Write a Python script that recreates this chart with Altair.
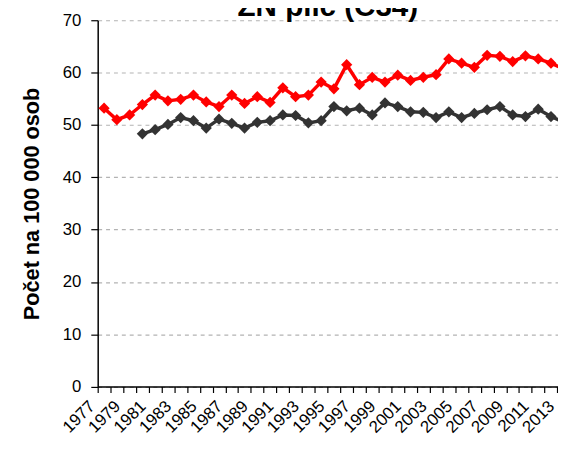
import altair as alt
import pandas as pd

title_text = "ZN plic (C34)"
years_red = list(range(1977, 2014))
red = [53.2, 51.0, 51.9, 53.9, 55.7, 54.6, 54.9, 55.7, 54.4, 53.5, 55.7, 54.1,
       55.4, 54.3, 57.1, 55.4, 55.7, 58.2, 56.9, 61.5, 57.7, 59.1, 58.2, 59.5,
       58.5, 59.1, 59.6, 62.6, 61.8, 61.0, 63.3, 63.1, 62.1, 63.2, 62.6, 61.8, 60.7]
years_gray = list(range(1980, 2014))
gray = [48.3, 49.1, 50.1, 51.4, 50.8, 49.4, 51.1, 50.3, 49.4, 50.5, 50.8, 51.9,
        51.8, 50.4, 50.8, 53.5, 52.7, 53.2, 51.9, 54.2, 53.5, 52.5, 52.4, 51.4,
        52.5, 51.4, 52.2, 52.9, 53.5, 51.9, 51.6, 53.0, 51.6, 50.5]
series_names = ["Incidence", "Mortalita"]
series_colors = ["#ff0000", "#333333"]
y_ticks = [0, 10, 20, 30, 40, 50, 60, 70]
x_ticks = [y - 0.5 for y in years_red]

df = pd.concat([
    pd.DataFrame({"rok": years_red, "hodnota": red, "serie": series_names[0]}),
    pd.DataFrame({"rok": years_gray, "hodnota": gray, "serie": series_names[1]}),
])

FONT = "Liberation Sans"
W, H = 467, 371.7

x = alt.X("rok:Q",
          scale=alt.Scale(domain=[1976.5, 2012.55], nice=False, zero=False),
          axis=alt.Axis(values=x_ticks, title=None, grid=False,
                        labelExpr="(datum.value + 0.5) % 2 == 1 ? format(datum.value + 0.5, 'd') : ''",
                        labelAngle=-45, labelAlign="right", labelBaseline="middle",
                        labelOffset=-6, labelPadding=11, labelOverlap=False,
                        labelFlush=False, labelBound=False,
                        labelFontSize=17, labelFont=FONT, labelColor="black",
                        tickSize=6, tickColor="black", tickWidth=1.2,
                        domainColor="black", domainWidth=1.5))
y = alt.Y("hodnota:Q",
          scale=alt.Scale(domain=[0, 70], nice=False),
          axis=alt.Axis(values=y_ticks, title="Počet na 100 000 osob",
                        titleFont=FONT, titleFontSize=22, titleFontWeight="bold",
                        titleColor="black", titlePadding=19,
                        labelFontSize=17, labelFont=FONT, labelColor="black",
                        labelPadding=10,
                        tickSize=7, tickColor="black", tickWidth=1.2,
                        domainColor="black", domainWidth=1.5,
                        grid=True, gridColor="#b3b3b3", gridDash=[4, 4], gridWidth=1.2))
color = alt.Color("serie:N", scale=alt.Scale(domain=series_names, range=series_colors), legend=None)

base = alt.Chart(df).encode(x=x, y=y, color=color, detail="serie:N")
lines = base.mark_line(strokeWidth=3.5, clip=True)
points = base.mark_point(shape="diamond", filled=True, size=130, opacity=1, clip=True)

title_layer = alt.Chart(pd.DataFrame({"t": [title_text]})).mark_text(
    font=FONT, fontSize=30, fontWeight="bold", color="black",
    align="center", baseline="alphabetic"
).encode(text="t:N", x=alt.value(W / 2), y=alt.value(-4.5))

chart = alt.layer(lines, points, title_layer).properties(
    width=W, height=H,
    autosize=alt.AutoSizeParams(type="none"),
    padding={"left": 91, "top": 9.3, "right": 0, "bottom": 49},
).configure_view(stroke=None)

chart.save("out.html", embed_options={"renderer": "svg", "actions": False})
